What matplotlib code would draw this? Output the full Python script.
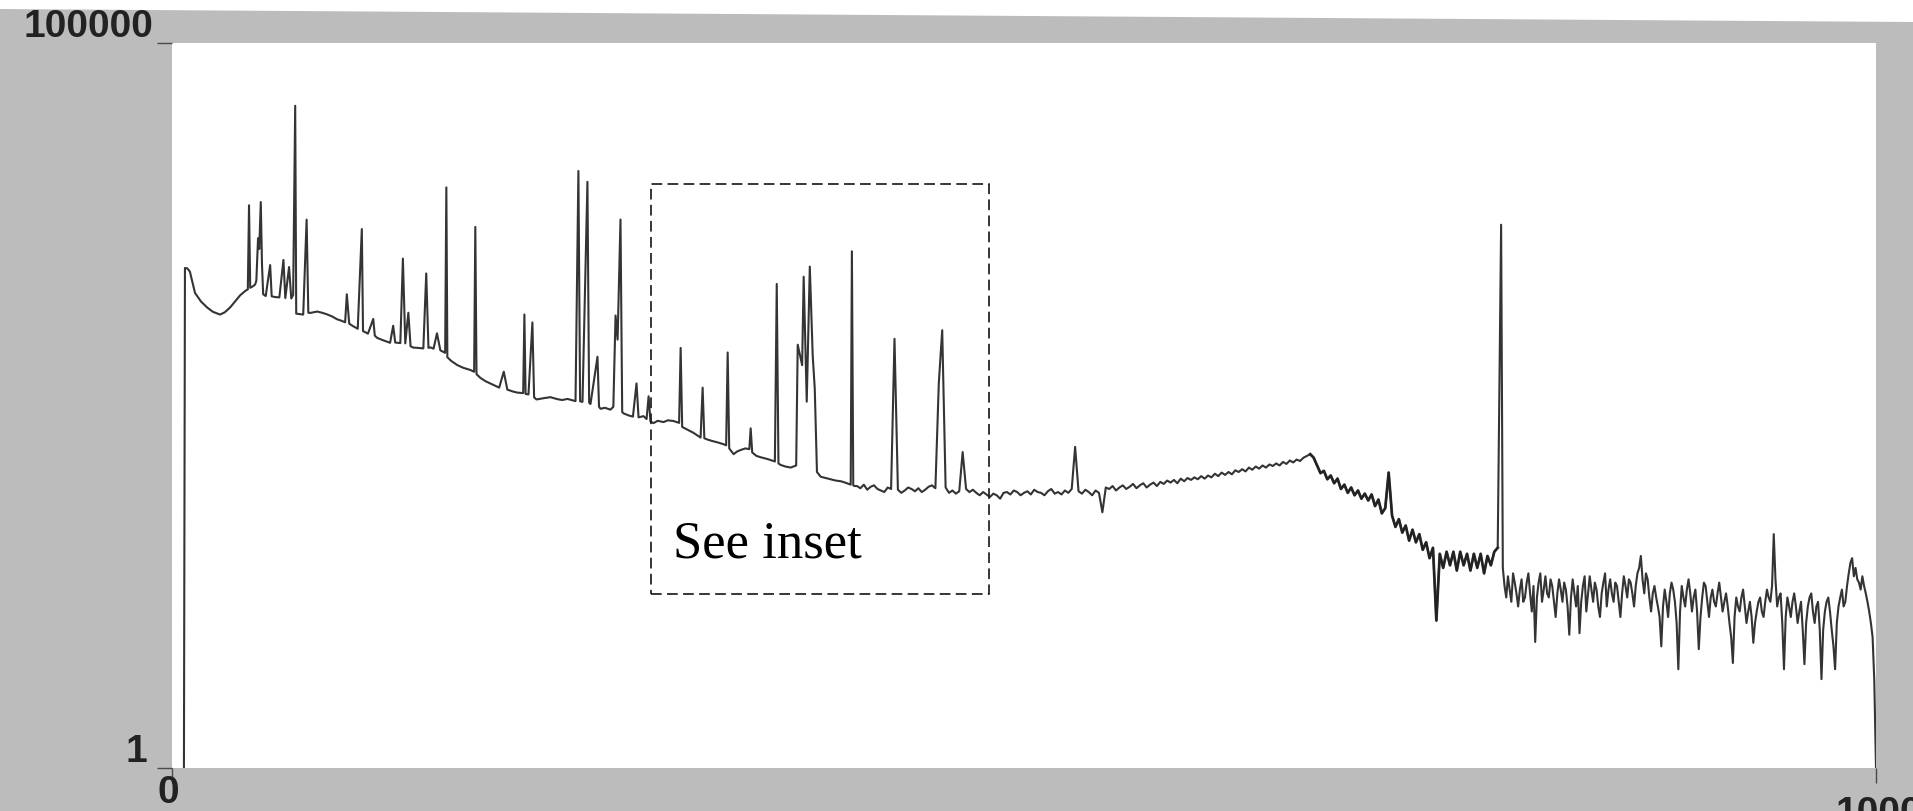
import numpy as np
import matplotlib.pyplot as plt

# low channels: irregular sampling so every line in the peak forest gets its own point
low_channels = [
    7.0, 7.6, 9.0, 10.5, 13.5, 17.0, 20.6, 24.0, 28.2, 31.0,
    34.1, 37.0, 40.0, 43.0, 44.5, 45.2, 45.9, 47.5, 48.8, 49.5,
    50.5, 51.2, 52.1, 52.8, 53.5, 55.0, 57.6, 58.5, 60.5, 63.0,
    65.4, 66.5, 68.7, 70.0, 71.1, 72.3, 72.9, 75.0, 77.0, 79.0,
    80.0, 81.1, 85.2, 88.0, 91.1, 94.0, 96.9, 99.0, 101.6, 102.6,
    104.0, 106.3, 109.0, 111.4, 112.1, 115.0, 118.1, 119.0, 120.4, 124.0,
    128.0, 129.8, 131.0, 134.0, 135.5, 136.9, 138.7, 140.0, 141.6, 144.0,
    147.5, 149.2, 150.5, 151.6, 153.5, 155.5, 157.5, 160.3, 161.0, 161.6,
    164.0, 167.5, 171.0, 175.1, 177.3, 178.0, 178.7, 181.0, 184.0, 188.6,
    192.0, 194.7, 196.8, 200.0, 202.7, 206.1, 206.8, 207.5, 209.2, 211.5,
    212.5, 213.9, 218.0, 222.1, 226.0, 229.0, 232.1, 236.8, 238.5, 239.5,
    240.9, 243.8, 244.8, 245.6, 249.7, 250.6, 251.5, 254.0, 257.3, 259.0,
    260.3, 261.5, 263.2, 264.2, 265.0, 268.0, 270.5, 272.6, 273.8, 276.7,
    278.5, 279.7, 280.8, 282.6, 285.0, 288.5, 291.0, 294.4, 297.6, 298.5,
    299.4, 302.6, 306.0, 310.2, 311.4, 312.4, 314.3, 317.0, 320.2, 323.7,
    325.2, 326.1, 327.0, 329.6, 331.5, 333.7, 336.5, 338.8, 339.6, 340.5,
    343.0, 345.5, 347.6, 349.6, 353.8, 354.9, 355.9, 357.2, 360.0, 363.1,
    366.3, 367.2, 369.8, 370.7, 372.5, 374.3, 376.0, 377.2, 378.5, 380.7,
    383.5, 386.6, 389.5, 392.5, 395.0, 397.2, 398.3, 399.0, 399.8, 400.5,
]
low_counts = [
    1, 2810, 2790, 2650, 1890, 1650, 1500, 1400, 1340, 1390,
    1500, 1650, 1820, 1950, 2000, 7600, 2050, 2100, 2160, 2300,
    4500, 3800, 8000, 3000, 1850, 1800, 2940, 1790, 1770, 1760,
    3190, 1740, 2850, 1730, 1830, 36900, 1360, 1350, 1340, 6050,
    1380, 1375, 1406, 1380, 1343, 1300, 1243, 1220, 1186, 1850,
    1160, 1114, 1070, 5210, 1031, 990, 1250, 960, 925, 890,
    856, 1122, 860, 852, 3260, 848, 1380, 810, 793, 790,
    783, 2575, 790, 796, 780, 995, 759, 730, 10100, 680,
    640, 600, 575, 556, 540, 5390, 520, 490, 465, 439,
    420, 541, 407, 395, 388, 385, 1342, 380, 377, 1183,
    360, 348, 355, 361, 350, 345, 351, 339, 13100, 338,
    335, 11030, 330, 324, 686, 310, 300, 305, 296, 310,
    1320, 900, 6060, 285, 279, 270, 265, 449, 262, 267,
    255, 366, 245, 239, 248, 243, 250, 247, 240, 789,
    225, 215, 205, 190, 420, 188, 184, 180, 176, 171,
    168, 734, 160, 146, 152, 156, 160, 158, 220, 150,
    142, 139, 137, 135, 130, 2180, 126, 123, 120, 118,
    122, 830, 600, 2445, 336, 2870, 700, 414, 110, 102,
    100, 98, 96, 95, 93, 91, 90, 3660, 89, 88,
]

# channels 402..780, every second channel
mid_channels = np.arange(402, 781, 2)
mid_counts = [
    88, 85, 90, 83, 87, 89, 84, 82, 80, 86,
    84, 912, 83, 79, 82, 86, 84, 81, 85, 80,
    83, 87, 89, 85, 450, 1045, 86, 79, 82, 78,
    81, 151, 84, 80, 83, 79, 76, 80, 77, 74,
    78, 76, 72, 79, 80, 77, 82, 80, 76, 79,
    81, 77, 83, 80, 79, 76, 81, 84, 78, 80,
    77, 82, 79, 84, 164, 81, 78, 83, 80, 76,
    82, 79, 58, 86, 84, 88, 82, 86, 89, 84,
    87, 91, 85, 89, 92, 86, 90, 93, 88, 94,
    91, 96, 93, 97, 92, 99, 95, 100, 97, 101,
    98, 103, 99, 104, 101, 107, 103, 109, 105, 110,
    106, 113, 110, 115, 111, 118, 114, 120, 116, 122,
    118, 124, 121, 126, 122, 129, 125, 132, 128, 134,
    131, 138, 142, 146, 138, 122, 108, 112, 98, 104,
    92, 99, 84, 90, 79, 86, 76, 82, 72, 78,
    70, 77, 64, 71, 57, 62, 109, 55, 46, 52,
    42, 47, 37, 44, 36, 41, 32, 36, 28, 33,
    10.4, 30, 24, 31, 25, 31, 23, 31, 25, 30,
    23, 30, 24, 30, 22, 29, 25, 31, 33, 5580,
]

# channels 781..1000, every channel (noisy tail)
tail_channels = np.arange(781, 1001)
tail_counts = [
    24, 18, 15, 21, 17, 14, 22, 19, 16, 13,
    17, 20, 14, 15, 19, 22, 16, 12, 18, 7.4,
    15, 19, 22, 14, 17, 21, 16, 15, 20, 18,
    14, 11, 16, 20, 17, 14, 19, 17, 13, 8.3,
    15, 20, 16, 13, 18, 8.5, 14, 18, 21, 12,
    16, 21, 17, 14, 19, 17, 13, 11, 16, 19,
    22, 13, 17, 20, 16, 14, 19, 18, 14, 11,
    16, 21, 18, 15, 20, 19, 16, 13, 18, 22,
    24, 29, 20, 16, 22, 20, 15, 12, 16, 18,
    15, 13, 11, 6.9, 13, 17, 14, 11, 16, 19,
    17, 14, 10, 4.8, 12, 18, 15, 13, 17, 20,
    16, 12, 15, 17, 12, 6.6, 11, 15, 19, 18,
    14, 11, 15, 17, 14, 13, 16, 19, 15, 12,
    14, 16, 13, 10, 8, 5.3, 11, 15, 13, 12,
    15, 17, 13, 10, 12, 14, 11, 7.3, 10, 12,
    14, 15, 12, 11, 14, 17, 15, 14, 18, 41,
    20, 13, 15, 16, 10, 4.8, 11, 15, 13, 11,
    14, 16, 13, 10, 12, 14, 9, 5.2, 10, 13,
    15, 16, 12, 10, 13, 14, 9, 4.1, 9, 12,
    14, 15, 12, 9, 7, 4.8, 10, 13, 15, 17,
    13, 14, 18, 22, 26, 28, 21, 24, 20, 19,
    17, 21, 18, 16, 14, 12, 10, 8, 4, 1,
]

channels = np.concatenate([low_channels, mid_channels, tail_channels])
counts = np.concatenate([low_counts, mid_counts, tail_counts])

W, H = 1913, 811
bg = '#bcbcbc'

fig = plt.figure(figsize=(W / 100, H / 100), dpi=100, facecolor=bg)

# paper edge showing above the scanned plot
fig.patches.append(plt.Polygon([[0, 1], [1, 1], [1, 1 - 22 / H], [0, 1 - 9 / H]],
                               closed=True, transform=fig.transFigure,
                               facecolor='white', edgecolor='none'))

left, right, top, bottom = 172, 1876, 43, 768
ax = fig.add_axes([left / W, 1 - bottom / H, (right - left) / W, (bottom - top) / H])
ax.set_facecolor('white')
for s in ax.spines.values():
    s.set_visible(False)

ax.plot(channels, counts, color='#1e1e1e', lw=1.5, alpha=0.9)
# the falling edge past the bump reads as a thicker band
edge = (channels >= 668) & (channels <= 779)
ax.plot(channels[edge], counts[edge], color='#1e1e1e', lw=2.0, alpha=0.85)

ax.set_yscale('log')
ax.set_xlim(0, 1000)
ax.set_ylim(1, 1e5)
ax.set_yticks([1, 1e5])
ax.yaxis.set_minor_locator(plt.NullLocator())
ax.set_xticks([0, 1000])
ax.set_xticklabels([])
ax.set_yticklabels([])
ax.tick_params(length=11, width=1.0, color='#4a4a4a', direction='out')

# inset marker
ax.add_patch(plt.Rectangle((0.281, 0.240), 0.1985, 0.5655, transform=ax.transAxes,
                           fill=False, edgecolor='black', lw=1.1,
                           linestyle=(0, (7, 3.5))))
ax.text(0.294, 0.29, 'See inset', transform=ax.transAxes, fontsize=38,
        family='Liberation Serif', va='baseline', ha='left', color='black')

lab = dict(fontsize=28, family='Liberation Sans', weight='bold', color='#222222')
fig.text(153 / W, 1 - 37 / H, '100000', ha='right', va='baseline', **lab)
fig.text(147 / W, 1 - 762 / H, '1', ha='right', va='baseline', **lab)
fig.text(168 / W, 1 - 803 / H, '0', ha='center', va='baseline', **lab)
fig.text(1879 / W, 1 - 824 / H, '1000', ha='center', va='baseline', **lab)

fig.savefig('out.png', dpi=100, facecolor=fig.get_facecolor())
